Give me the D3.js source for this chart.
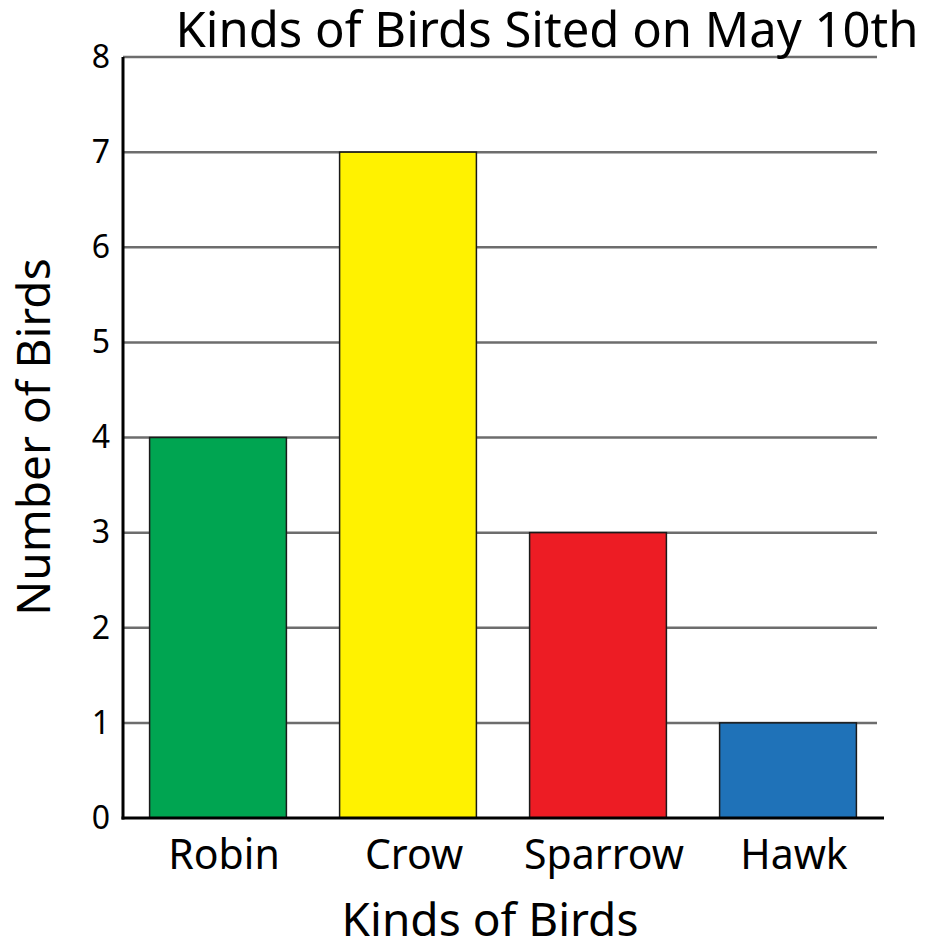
<!DOCTYPE html>
<html>
<head>
<meta charset="utf-8">
<script src="https://cdn.jsdelivr.net/npm/d3@7"></script>
<style>
  body { margin: 0; background: #fff; }
  text { font-family: "Noto Sans", "Open Sans", sans-serif; fill: #000; }
</style>
</head>
<body>
<script>
const birds = ['Robin', 'Crow', 'Sparrow', 'Hawk'];
const counts = [4, 7, 3, 1];
const barColors = ['#00a551', '#fff200', '#ed1c24', '#1f72b8'];
const yTicks = [0, 1, 2, 3, 4, 5, 6, 7, 8];

const width = 934, height = 942;
const plotLeft = 123, plotTop = 57, plotRight = 883, plotBottom = 818;

const svg = d3.select('body').append('svg')
  .attr('width', width)
  .attr('height', height);

const x = d3.scaleBand()
  .domain(birds)
  .range([plotLeft, plotRight])
  .paddingInner(0.28)
  .paddingOuter(0.14);

const y = d3.scaleLinear()
  .domain([0, 8])
  .range([plotBottom, plotTop]);

// gridlines
svg.append('g')
  .selectAll('line')
  .data(yTicks.filter(d => d > 0))
  .enter().append('line')
  .attr('x1', plotLeft)
  .attr('x2', 877)
  .attr('y1', d => y(d))
  .attr('y2', d => y(d))
  .attr('stroke', '#6d6d6d')
  .attr('stroke-width', 2.5);

// bars
svg.append('g')
  .selectAll('rect')
  .data(counts)
  .enter().append('rect')
  .attr('x', (d, i) => x(birds[i]))
  .attr('y', d => y(d))
  .attr('width', x.bandwidth())
  .attr('height', d => y(0) - y(d))
  .attr('fill', (d, i) => barColors[i])
  .attr('stroke', '#1a1a1a')
  .attr('stroke-width', 1.5);

// y axis
const yAxis = svg.append('g')
  .attr('transform', `translate(${plotLeft},0)`)
  .call(d3.axisLeft(y).tickValues(yTicks).tickSize(0).tickPadding(13));
yAxis.select('.domain').remove();
yAxis.selectAll('text')
  .style('font-size', '32px')
  .attr('font-family', null);

svg.append('line')
  .attr('x1', plotLeft).attr('x2', plotLeft)
  .attr('y1', plotTop).attr('y2', plotBottom + 1.5)
  .attr('stroke', '#000').attr('stroke-width', 3);

// x axis
const xAxis = svg.append('g')
  .attr('transform', `translate(0,${plotBottom})`)
  .call(d3.axisBottom(x).tickSize(0).tickPadding(22));
xAxis.select('.domain').remove();
xAxis.selectAll('text')
  .style('font-size', '41px')
  .attr('dx', 6)
  .attr('font-family', null);

svg.append('line')
  .attr('x1', plotLeft - 1.5).attr('x2', 884)
  .attr('y1', plotBottom).attr('y2', plotBottom)
  .attr('stroke', '#000').attr('stroke-width', 3);

// titles
svg.append('text')
  .attr('x', 547)
  .attr('y', 47)
  .attr('text-anchor', 'middle')
  .style('font-size', '49px')
  .text('Kinds of Birds Sited on May 10th');

svg.append('text')
  .attr('transform', 'translate(50,437) rotate(-90)')
  .attr('text-anchor', 'middle')
  .style('font-size', '46px')
  .text('Number of Birds');

svg.append('text')
  .attr('x', 490)
  .attr('y', 936)
  .attr('text-anchor', 'middle')
  .style('font-size', '46px')
  .text('Kinds of Birds');
</script>
</body>
</html>
